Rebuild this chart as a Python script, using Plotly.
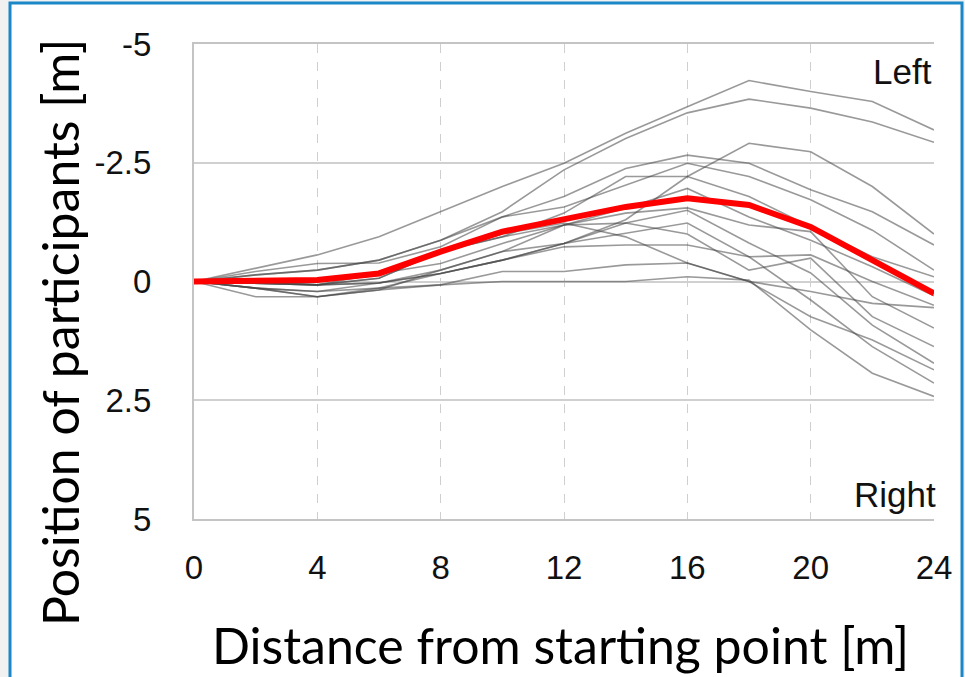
import plotly.graph_objects as go

# ---- data ----
distance = [0, 2, 4, 6, 8, 10, 12, 14, 16, 18, 20, 22, 24]

participants = {
    "A": [0, -0.28, -0.56, -0.94, -1.47, -2.00, -2.49, -3.12, -3.68, -4.23, -4.00, -3.79, -3.19],
    "B": [0, -0.14, -0.24, -0.45, -0.87, -1.47, -2.35, -3.01, -3.55, -3.84, -3.65, -3.36, -2.93],
    "C": [0, 0.14, 0.21, 0.03, -0.17, -0.45, -0.80, -1.30, -2.21, -2.91, -2.73, -2.00, -1.00],
    "D": [0, -0.21, -0.38, -0.39, -0.73, -1.36, -1.79, -2.38, -2.66, -2.49, -1.93, -1.47, -0.77],
    "E": [0, -0.14, -0.24, -0.45, -0.87, -1.36, -1.57, -2.03, -2.49, -2.21, -1.72, -1.08, -0.24],
    "F": [0, 0.04, 0.07, -0.07, -0.63, -0.94, -1.44, -2.21, -2.21, -1.79, -1.15, -0.52, -0.10],
    "G": [0, 0.00, 0.07, -0.17, -0.38, -0.80, -1.19, -1.54, -1.96, -1.36, -0.87, -0.31, 0.30],
    "H": [0, 0.04, 0.07, 0.03, -0.24, -0.63, -1.19, -1.44, -1.55, -1.19, -1.05, 0.32, 0.98],
    "I": [0, 0.14, 0.21, 0.14, -0.17, -0.45, -0.80, -1.23, -1.50, -0.81, -0.18, 0.92, 1.72],
    "J": [0, 0.14, 0.32, 0.18, -0.24, -0.63, -0.80, -1.01, -1.23, -0.52, 0.39, 1.37, 2.14],
    "K": [0, 0.04, 0.07, -0.07, -0.63, -0.94, -1.19, -1.23, -1.00, -0.24, -0.49, 0.74, 1.37],
    "L": [0, 0.00, -0.03, -0.17, -0.63, -1.00, -1.23, -0.94, -0.39, 0.00, 0.21, 0.46, 0.55],
    "M": [0, 0.04, 0.07, 0.03, -0.17, -0.45, -0.73, -0.77, -0.77, -0.52, -0.56, 0.00, 0.50],
    "N": [0, 0.14, 0.32, 0.14, 0.07, -0.21, -0.21, -0.35, -0.39, 0.00, 0.74, 1.23, 1.86],
    "O": [0, 0.32, 0.32, 0.18, 0.07, 0.00, 0.00, 0.00, -0.10, -0.03, 1.02, 1.93, 2.42],
}

mean_position = [0, 0.0, -0.03, -0.17, -0.63, -1.05, -1.30, -1.57, -1.75, -1.61, -1.15, -0.45, 0.25]

x_ticks = [0, 4, 8, 12, 16, 20, 24]
y_ticks = [-5, -2.5, 0, 2.5, 5]
y_tick_labels = ["-5", "-2.5", "0", "2.5", "5"]

# ---- figure ----
W, H = 965, 677
L, R, T, B = 194, 31, 44, 158
PW, PH = W - L - R, H - T - B

def px(x):
    return (x - L) / PW

def py(y):
    return (H - B - y) / PH

fig = go.Figure()
for name, vals in participants.items():
    fig.add_trace(go.Scatter(
        x=distance, y=vals, mode="lines", name=name,
        line=dict(color="rgba(70,70,70,0.55)", width=1.6),
        showlegend=False, hoverinfo="skip"))

fig.add_trace(go.Scatter(
    x=distance, y=mean_position, mode="lines", name="Mean",
    line=dict(color="#ff0000", width=6), showlegend=False))

SANS = "Arial"
tickfont = dict(family=SANS, size=33, color="#111111")

fig.update_layout(
    width=W, height=H,
    margin=dict(l=L, r=R, t=T, b=B, pad=0),
    paper_bgcolor="#f1f1f1",
    plot_bgcolor="white",
    xaxis=dict(
        range=[0, 24], tickvals=x_ticks, ticktext=[str(v) for v in x_ticks],
        showgrid=True, gridcolor="#cfcfcf", gridwidth=1.2, griddash="dash",
        zeroline=False, showline=True, linecolor="#c4c4c4", linewidth=2, mirror=True,
        ticks="", tickfont=tickfont, ticklabelstandoff=18,
    ),
    yaxis=dict(
        range=[5, -5], tickvals=y_ticks, ticktext=y_tick_labels,
        showgrid=True, gridcolor="#d0d0d0", gridwidth=1.5,
        zeroline=False, showline=True, linecolor="#c4c4c4", linewidth=2,
        ticks="", tickfont=tickfont, ticklabelstandoff=34,
    ),
    shapes=[
        dict(type="rect", xref="paper", yref="paper",
             x0=px(10), x1=px(962), y0=py(690), y1=py(3),
             fillcolor="white", line=dict(color="#1b87c6", width=3), layer="below"),
    ],
    annotations=[
        dict(text="Left", xref="paper", yref="paper", x=px(934), y=py(71),
             xanchor="right", yanchor="middle", showarrow=False,
             font=dict(family=SANS, size=35, color="#111111")),
        dict(text="Right", xref="paper", yref="paper", x=px(938), y=py(494),
             xanchor="right", yanchor="middle", showarrow=False,
             font=dict(family=SANS, size=35, color="#111111")),
        dict(text="Distance from starting point [m]", xref="paper", yref="paper",
             x=px(560), y=py(645), xanchor="center", yanchor="middle", showarrow=False,
             font=dict(family="Lato, Noto Sans", size=50, color="#000000")),
        dict(text="Position of participants [m]", xref="paper", yref="paper",
             x=px(60), y=py(333), xanchor="center", yanchor="middle", showarrow=False,
             textangle=-90,
             font=dict(family="Lato, Noto Sans", size=50, color="#000000")),
    ],
)

fig.write_html("out.html")
